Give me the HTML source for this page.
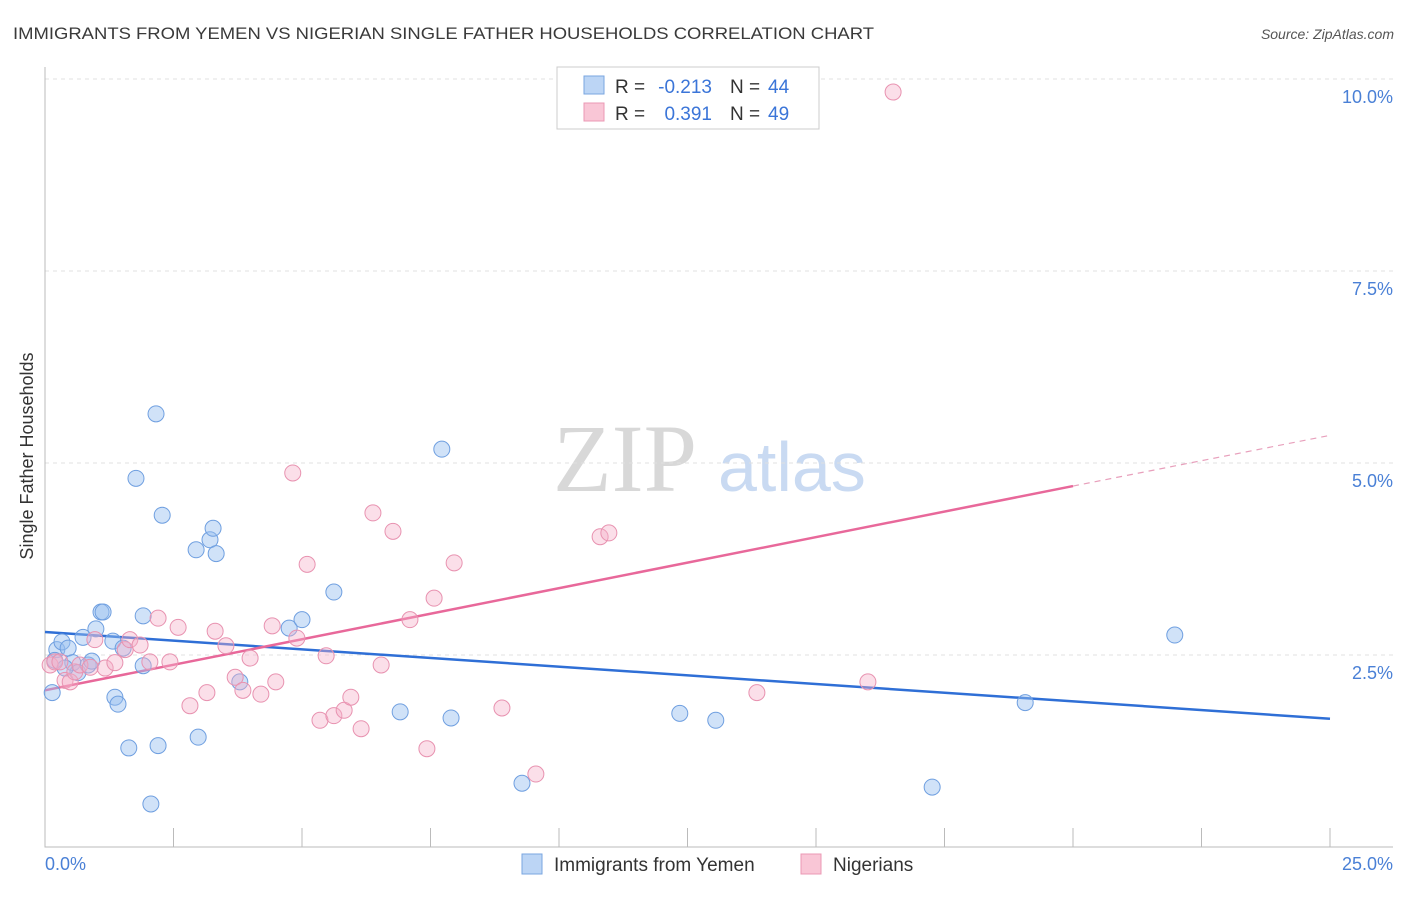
<!DOCTYPE html>
<html><head><meta charset="utf-8"><style>
body{margin:0;background:#fff;font-family:"Liberation Sans",sans-serif;}
svg text{font-family:"Liberation Sans",sans-serif;}
</style></head><body>
<svg id="chart" width="1406" height="892" xmlns="http://www.w3.org/2000/svg">
<text x="13" y="39" font-size="17" fill="#3a3a3a" textLength="861" lengthAdjust="spacingAndGlyphs">IMMIGRANTS FROM YEMEN VS NIGERIAN SINGLE FATHER HOUSEHOLDS CORRELATION CHART</text>
<text x="1394" y="39" font-size="14" fill="#555" font-style="italic" text-anchor="end">Source: ZipAtlas.com</text>
<g>
<text x="553" y="491" font-size="96" fill="#d8d8d8" style="font-family:'Liberation Serif',serif">ZIP</text>
<text x="718" y="491" font-size="70" fill="#c9daf2">atlas</text>
</g>
<g id="grid"></g>
<g id="axes"></g>
<text transform="translate(33,456) rotate(-90)" font-size="18" fill="#333" text-anchor="middle">Single Father Households</text>
<g id="lines"></g>
<g id="points"></g>
<g>
<rect x="557" y="67" width="262" height="62" fill="#fff" stroke="#ccc"/>
<rect x="584" y="76" width="20" height="18" fill="#bcd5f5" stroke="#7aa6e0"/>
<rect x="584" y="103" width="20" height="18" fill="#f9c6d6" stroke="#eb98b4"/>
<text x="615" y="93" font-size="19" fill="#333">R =</text>
<text x="712" y="93" font-size="19" fill="#3b75d8" text-anchor="end">-0.213</text>
<text x="730" y="93" font-size="19" fill="#333">N =</text>
<text x="768" y="93" font-size="19" fill="#3b75d8">44</text>
<text x="615" y="120" font-size="19" fill="#333">R =</text>
<text x="712" y="120" font-size="19" fill="#3b75d8" text-anchor="end">0.391</text>
<text x="730" y="120" font-size="19" fill="#333">N =</text>
<text x="768" y="120" font-size="19" fill="#3b75d8">49</text>
</g>
<g>
<rect x="522" y="854" width="20" height="20" fill="#bcd5f5" stroke="#7aa6e0"/>
<text x="554" y="871" font-size="19" fill="#333">Immigrants from Yemen</text>
<rect x="801" y="854" width="20" height="20" fill="#f9c6d6" stroke="#eb98b4"/>
<text x="833" y="871" font-size="19" fill="#333">Nigerians</text>
</g>
</svg>
<script>
const yTicks=[2.5,5,7.5,10];
const yTickLabels=["2.5%","5.0%","7.5%","10.0%"];
const xTicks=[0,2.5,5,7.5,10,12.5,15,17.5,20,22.5,25];
const yemenX=[0.14,0.23,0.33,0.45,0.54,0.64,0.74,0.84,0.91,0.99,1.09,1.13,1.32,1.36,1.42,1.52,1.63,1.77,1.91,1.91,2.06,2.16,2.20,2.28,2.94,2.98,3.21,3.27,3.33,3.79,4.75,5.00,5.62,6.91,7.72,7.90,9.28,12.35,13.05,17.26,19.07,21.98,0.19,0.39];
const yemenY=[2.01,2.57,2.67,2.59,2.40,2.27,2.73,2.37,2.42,2.84,3.06,3.06,2.68,1.95,1.86,2.59,1.29,4.80,3.01,2.36,0.56,5.64,1.32,4.32,3.87,1.43,4.00,4.15,3.82,2.15,2.85,2.96,3.32,1.76,5.18,1.68,0.83,1.74,1.65,0.78,1.88,2.76,2.43,2.33];
const nigX=[16.50,0.10,0.19,0.29,0.39,0.49,0.58,0.68,0.88,0.97,1.17,1.36,1.56,1.65,1.85,2.04,2.20,2.43,2.59,2.82,3.15,3.31,3.52,3.70,3.85,3.99,4.20,4.49,4.42,4.82,4.90,5.10,5.35,5.47,5.62,5.82,5.95,6.15,6.38,6.54,6.77,7.10,7.43,7.57,7.96,8.89,9.55,10.80,10.97,13.85,16.01];
const nigY=[9.83,2.37,2.41,2.41,2.17,2.15,2.28,2.37,2.34,2.70,2.33,2.40,2.57,2.70,2.63,2.41,2.98,2.41,2.86,1.84,2.01,2.81,2.62,2.21,2.04,2.46,1.99,2.15,2.88,4.87,2.72,3.68,1.65,2.49,1.71,1.78,1.95,1.54,4.35,2.37,4.11,2.96,1.28,3.24,3.70,1.81,0.95,4.04,4.09,2.01,2.15];
const yemenTrend=[2.80,1.67];
const nigTrend=[2.04,4.70,5.36];

const NS="http://www.w3.org/2000/svg";
const sx=v=>45+v*51.4;
const sy=v=>847-v*76.8;
function mk(tag,attrs,parent){const e=document.createElementNS(NS,tag);for(const k in attrs)e.setAttribute(k,attrs[k]);parent.appendChild(e);return e;}
const grid=document.getElementById('grid'),axes=document.getElementById('axes'),lines=document.getElementById('lines'),pts=document.getElementById('points');
yTicks.forEach((t,i)=>{
 const l=mk('line',{x1:45,x2:1393,y1:sy(t),y2:sy(t),stroke:'#e0e0e0','stroke-dasharray':'4,4'},grid);
 
 
 const tx=mk('text',{x:1393,y:sy(t)+24,'font-size':18,fill:'#4a80d6','text-anchor':'end'},axes);
 tx.textContent=yTickLabels[i];
 
 
});
const ax=mk('path',{d:'M45,67 V847 H1393',fill:'none',stroke:'#bbb'},axes);


xTicks.forEach(t=>{
 const l=mk('line',{x1:sx(t),x2:sx(t),y1:828,y2:847,stroke:'#bbb'},axes);
 
 
});
const x0=mk('text',{x:45,y:870,'font-size':18,fill:'#4a80d6'},axes);x0.textContent='0.0%';


const x1=mk('text',{x:1393,y:870,'font-size':18,fill:'#4a80d6','text-anchor':'end'},axes);x1.textContent='25.0%';



yemenX.forEach((x,i)=>{
 const c=mk('circle',{cx:sx(x),cy:sy(yemenY[i]),r:8,fill:'rgba(150,190,240,0.45)',stroke:'#6f9fe0','stroke-width':1},pts);
 
 
});
nigX.forEach((x,i)=>{
 const c=mk('circle',{cx:sx(x),cy:sy(nigY[i]),r:8,fill:'rgba(245,175,200,0.4)',stroke:'#e892b0','stroke-width':1},pts);
 
 
});
const bl=mk('line',{x1:sx(0),y1:sy(yemenTrend[0]),x2:sx(25),y2:sy(yemenTrend[1]),stroke:'#2f6fd6','stroke-width':2.5},lines);


const pl=mk('line',{x1:sx(0),y1:sy(nigTrend[0]),x2:sx(20),y2:sy(nigTrend[1]),stroke:'#e8689a','stroke-width':2.5},lines);


const pd=mk('line',{x1:sx(20),y1:sy(nigTrend[1]),x2:sx(25),y2:sy(nigTrend[2]),stroke:'#e8a0bc','stroke-width':1.2,'stroke-dasharray':'6,5'},lines);


</script>
</body></html>
